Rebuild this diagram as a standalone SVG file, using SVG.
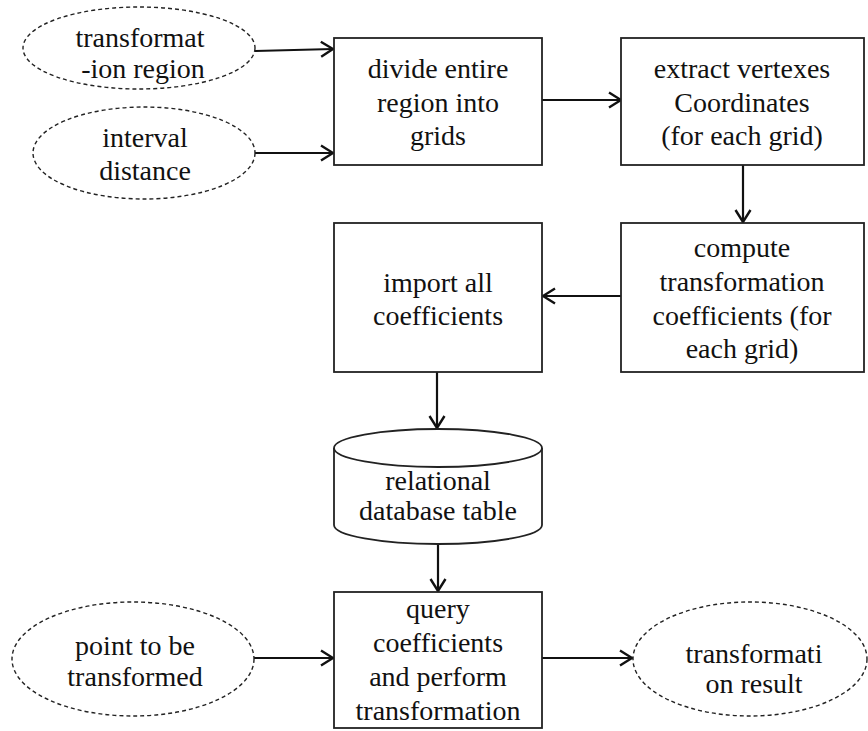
<svg xmlns="http://www.w3.org/2000/svg" width="868" height="731" viewBox="0 0 868 731">
<style>
text{font-family:"Liberation Serif","Times New Roman",serif;font-size:28px;fill:#111;text-anchor:middle}
.box{fill:#fff;stroke:#222;stroke-width:1.8}
.ell{fill:#fff;stroke:#222;stroke-width:1.4;stroke-dasharray:4 3}
.con{fill:none;stroke:#111;stroke-width:2.2}
</style>
<defs>
<marker id="arr" viewBox="0 0 14 18" refX="13" refY="9" markerWidth="14" markerHeight="18" markerUnits="userSpaceOnUse" orient="auto">
<path d="M1,1.5 L13,9 L1,16.5" fill="none" stroke="#111" stroke-width="2.4"/>
</marker>
</defs>
<rect width="868" height="731" fill="#fff"/>
<g id="connectors">
<path class="con" d="M255,51 L333,49" marker-end="url(#arr)"/>
<path class="con" d="M255,153 L333,153" marker-end="url(#arr)"/>
<path class="con" d="M542,100 L621,100" marker-end="url(#arr)"/>
<path class="con" d="M743,165 L743,222" marker-end="url(#arr)"/>
<path class="con" d="M621,296 L543,296" marker-end="url(#arr)"/>
<path class="con" d="M437,372 L437,428" marker-end="url(#arr)"/>
<path class="con" d="M438,544 L438,591" marker-end="url(#arr)"/>
<path class="con" d="M254,658 L333,658" marker-end="url(#arr)"/>
<path class="con" d="M542,658 L632,658" marker-end="url(#arr)"/>
</g>
<g id="n-region">
<ellipse class="ell" cx="139" cy="48" rx="116" ry="41"/>
<text x="140" y="47">transformat</text>
<text x="143" y="78">-ion region</text>
</g>
<g id="n-interval">
<ellipse class="ell" cx="144" cy="153" rx="111" ry="46"/>
<text x="145" y="147">interval</text>
<text x="145" y="180">distance</text>
</g>
<g id="n-divide">
<rect class="box" x="334" y="38" width="208" height="127"/>
<text x="438" y="78">divide entire</text>
<text x="438" y="112">region into</text>
<text x="438" y="145">grids</text>
</g>
<g id="n-extract">
<rect class="box" x="621" y="38" width="243" height="127"/>
<text x="742" y="78">extract vertexes</text>
<text x="742" y="112">Coordinates</text>
<text x="742" y="145">(for each grid)</text>
</g>
<g id="n-compute">
<rect class="box" x="621" y="223" width="243" height="149"/>
<text x="742" y="257">compute</text>
<text x="742" y="291">transformation</text>
<text x="742" y="325">coefficients (for</text>
<text x="742" y="358">each grid)</text>
</g>
<g id="n-import">
<rect class="box" x="334" y="223" width="208" height="149"/>
<text x="438" y="292">import all</text>
<text x="438" y="325">coefficients</text>
</g>
<g id="n-db">
<path class="box" d="M334,448 A104,19 0 0 1 542,448 L542,525 A104,19 0 0 1 334,525 Z"/>
<path class="box" fill="none" d="M334,448 A104,19 0 0 0 542,448"/>
<text x="438" y="490">relational</text>
<text x="438" y="520">database table</text>
</g>
<g id="n-query">
<rect class="box" x="334" y="592" width="208" height="136"/>
<text x="438" y="618">query</text>
<text x="438" y="652">coefficients</text>
<text x="438" y="686">and perform</text>
<text x="438" y="720">transformation</text>
</g>
<g id="n-point">
<ellipse class="ell" cx="133" cy="659" rx="121" ry="57"/>
<text x="135" y="655">point to be</text>
<text x="135" y="686">transformed</text>
</g>
<g id="n-result">
<ellipse class="ell" cx="750" cy="659" rx="117" ry="57"/>
<text x="754" y="663">transformati</text>
<text x="754" y="693">on result</text>
</g>
</svg>
